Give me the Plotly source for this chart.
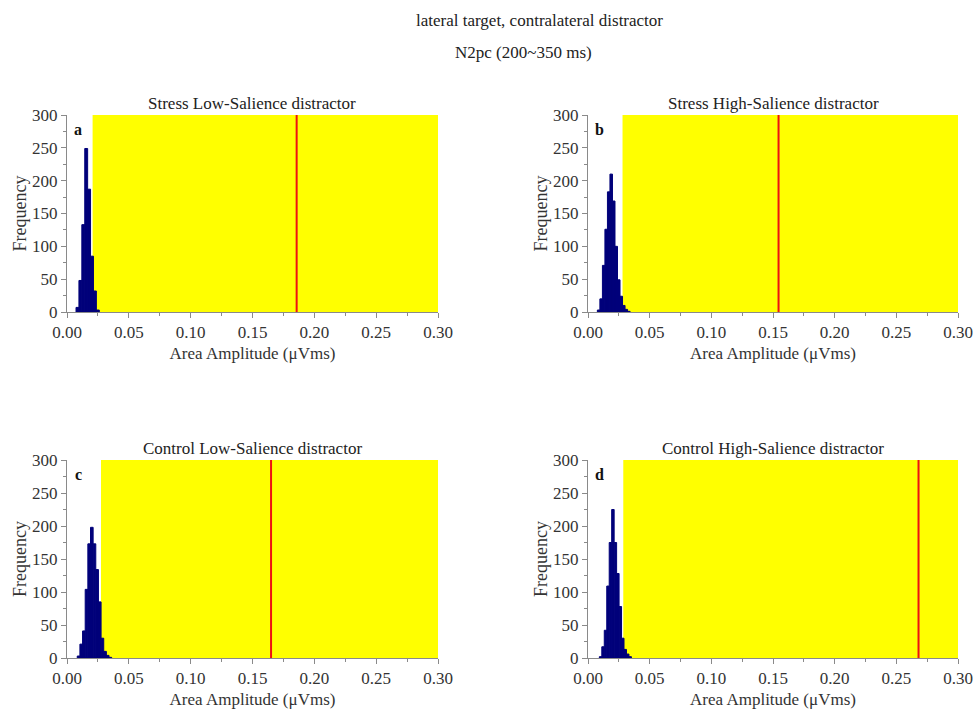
import plotly.graph_objects as go

# ---------------- data ----------------
panel_titles = ["Stress Low-Salience distractor", "Stress High-Salience distractor",
                "Control Low-Salience distractor", "Control High-Salience distractor"]
panel_letters = ["a", "b", "c", "d"]

# histogram bins: first bin left edge, bin width, counts
a_bin_start, a_bin_width = 0.0073, 0.00235
a_counts = [7, 48, 133, 249, 187, 85, 32, 3]
b_bin_start, b_bin_width = 0.0076, 0.00204
b_counts = [3, 20, 71, 126, 183, 210, 169, 100, 49, 24, 10, 4, 1]
c_bin_start, c_bin_width = 0.0083, 0.00214
c_counts = [3, 21, 41, 104, 173, 198, 173, 134, 85, 30, 10, 4, 1]
d_bin_start, d_bin_width = 0.0092, 0.0020
d_counts = [2, 17, 42, 109, 175, 225, 175, 128, 78, 30, 13, 6, 2]

# observed value (red line) and start of the yellow region (critical value)
observed = [0.1857, 0.1545, 0.165, 0.268]
critical = [0.0207, 0.028, 0.0275, 0.0286]

x_max = 0.30
y_max = 300
x_tickvals = [0.00, 0.05, 0.10, 0.15, 0.20, 0.25, 0.30]
y_tickvals = [0, 50, 100, 150, 200, 250, 300]

hist = [(a_bin_start, a_bin_width, a_counts), (b_bin_start, b_bin_width, b_counts),
        (c_bin_start, c_bin_width, c_counts), (d_bin_start, d_bin_width, d_counts)]

# ---------------- layout ----------------
W, H = 979, 713
x_domains = [(67 / W, 438 / W), (588 / W, 958 / W)]
y_domains = [(1 - 312 / H, 1 - 115 / H), (1 - 658 / H, 1 - 460 / H)]

SERIF = "Liberation Serif, Times New Roman, serif"
AX_COL = "#8a8a8a"
TXT_COL = "#333333"
BAR_COL = "#00007a"

fig = go.Figure()
layout = dict(width=W, height=H, margin=dict(l=0, r=0, t=0, b=0, autoexpand=False),
              paper_bgcolor="white", plot_bgcolor="white", showlegend=False,
              shapes=[], annotations=[])

for i in range(4):
    r, c = divmod(i, 2)
    n = i + 1
    xa = "x" if n == 1 else f"x{n}"
    ya = "y" if n == 1 else f"y{n}"
    start, width, counts = hist[i]
    centers = [start + width * (k + 0.5) for k in range(len(counts))]
    fig.add_trace(go.Bar(x=centers, y=counts, width=width,
                         marker=dict(color=BAR_COL, line=dict(width=1, color=BAR_COL)),
                         xaxis=xa, yaxis=ya, hoverinfo="x+y"))

    axis_common = dict(showline=True, linecolor=AX_COL, linewidth=1, ticks="outside",
                       ticklen=5, tickcolor=AX_COL, showgrid=False, zeroline=False, automargin=False,
                       tickfont=dict(family=SERIF, size=17, color=TXT_COL))
    layout["xaxis" if n == 1 else f"xaxis{n}"] = dict(
        axis_common, domain=list(x_domains[c]), anchor=ya, range=[0, x_max],
        tickvals=x_tickvals, tickformat=".2f",
        minor=dict(ticks="outside", ticklen=3, tickcolor=AX_COL, dtick=0.025, tick0=0),
        title=dict(text="Area Amplitude (μVms)", font=dict(family=SERIF, size=17, color=TXT_COL), standoff=5))
    layout["yaxis" if n == 1 else f"yaxis{n}"] = dict(
        axis_common, domain=list(y_domains[r]), anchor=xa, range=[0, y_max],
        tickvals=y_tickvals,
        minor=dict(ticks="outside", ticklen=3, tickcolor=AX_COL, dtick=25, tick0=0),
        title=dict(text="Frequency", font=dict(family=SERIF, size=18, color=TXT_COL), standoff=0))

    # yellow region and red observed line
    layout["shapes"].append(dict(type="rect", xref=xa, yref=ya, x0=critical[i], x1=x_max, y0=0, y1=y_max,
                                 fillcolor="#ffff00", line=dict(width=0), layer="below"))
    layout["shapes"].append(dict(type="line", xref=xa, yref=ya, x0=observed[i], x1=observed[i], y0=0, y1=y_max,
                                 line=dict(color="#ee1111", width=2), layer="above"))
    # panel title and letter
    layout["annotations"].append(dict(text=panel_titles[i], xref=f"{xa} domain", yref=f"{ya} domain",
                                      x=0.5, y=1.0, yshift=0, xanchor="center", yanchor="bottom", showarrow=False,
                                      font=dict(family=SERIF, size=17, color="#222222")))
    layout["annotations"].append(dict(text=f"<b>{panel_letters[i]}</b>", xref=f"{xa} domain", yref=f"{ya} domain",
                                      x=0.03, y=0.925, xanchor="center", yanchor="middle", showarrow=False,
                                      font=dict(family=SERIF, size=16, color="#111111")))

layout["annotations"].append(dict(text="lateral target, contralateral distractor", xref="paper", yref="paper",
                                  x=539 / W, y=1 - 20 / H, xanchor="center", yanchor="middle", showarrow=False,
                                  font=dict(family=SERIF, size=17, color="#222222")))
layout["annotations"].append(dict(text="N2pc (200~350 ms)", xref="paper", yref="paper",
                                  x=523 / W, y=1 - 52 / H, xanchor="center", yanchor="middle", showarrow=False,
                                  font=dict(family=SERIF, size=17, color="#222222")))

fig.update_layout(**layout)
fig.write_html("out.html")
